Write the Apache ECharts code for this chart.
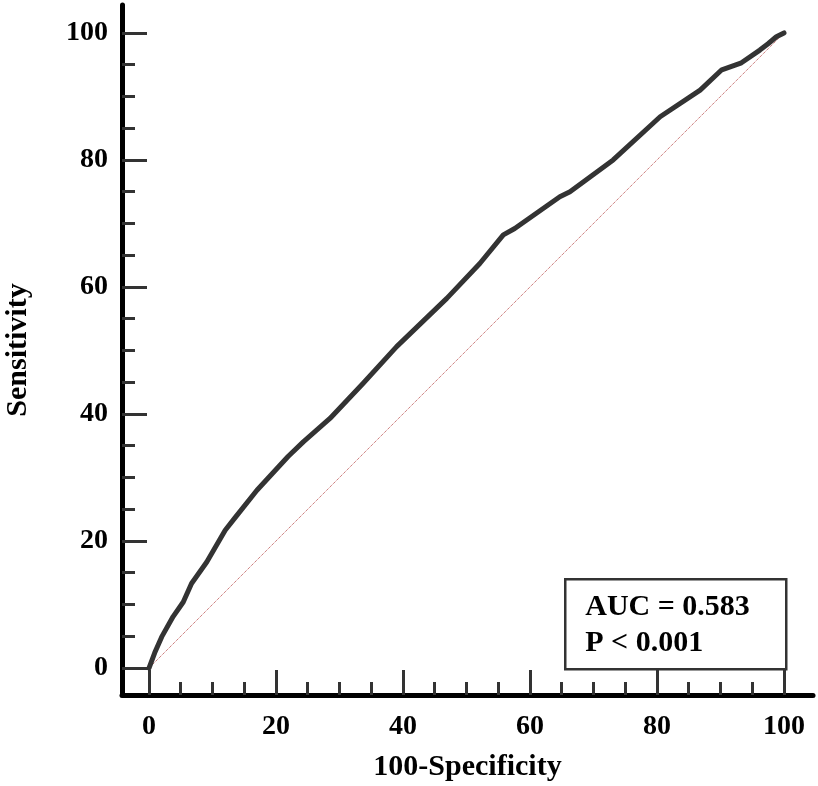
<!DOCTYPE html>
<html>
<head>
<meta charset="utf-8">
<title>ROC curve</title>
<script src="https://cdn.jsdelivr.net/npm/echarts@6/dist/echarts.min.js"></script>
<style>
    html, body { margin: 0; padding: 0; background: #fff; }
    #chart { width: 818px; height: 786px; }
</style>
</head>
<body>
<div id="chart"></div>
<script>
// ROC points (100-Specificity, Sensitivity)
var fpr = [0, 0.2, 0.9, 2.0, 3.8, 5.4, 6.7, 9.1, 12.0, 13.5, 17.0, 21.9, 24.3, 28.5, 33.7, 39.0,
    46.9, 52.1, 55.8, 57.6, 64.7, 66.3, 73.1, 80.5, 86.8, 90.2, 93.3, 96.2, 97.5, 98.8, 100];
var tpr = [0, 0.2, 2.4, 4.9, 8.1, 10.4, 13.3, 16.7, 21.7, 23.6, 28.0, 33.3, 35.6, 39.3, 44.8, 50.6,
    58.2, 63.7, 68.2, 69.2, 74.2, 75.0, 80.0, 86.8, 91.0, 94.2, 95.3, 97.3, 98.3, 99.4, 100];
var diagX = [0, 100];
var diagY = [0, 100];
var majorTicks = [0, 20, 40, 60, 80, 100];
var minorTicks = [5, 10, 15, 25, 30, 35, 45, 50, 55, 65, 70, 75, 85, 90, 95];
var aucText = ['AUC = 0.583', 'P < 0.001'];

var FONT = "'Liberation Serif', 'Times New Roman', serif";

function zip(a, b) {
    return a.map(function (v, i) { return [v, b[i]]; });
}

// major axis: line, long ticks, labels
function majorAxis(name, extra) {
    var ax = {
        type: 'value',
        min: -4.25,
        max: 104.5,
        name: name,
        nameLocation: 'middle',
        nameTextStyle: { fontFamily: FONT, fontWeight: 'bold', fontSize: 30, color: '#000' },
        axisLine: { show: true, onZero: false, lineStyle: { color: '#000', width: 5 } },
        axisTick: { show: true, inside: true, length: 25, customValues: majorTicks,
            lineStyle: { color: '#333', width: 3 } },
        splitLine: { show: false }
    };
    for (var k in extra) ax[k] = extra[k];
    return ax;
}

// minor axis: short ticks only
function minorAxis(extra) {
    var ax = {
        type: 'value',
        min: -4.25,
        max: 104.5,
        axisLine: { show: false, onZero: false },
        axisTick: { show: true, inside: true, length: 13, customValues: minorTicks,
            lineStyle: { color: '#333', width: 3 } },
        axisLabel: { show: false },
        splitLine: { show: false }
    };
    for (var k in extra) ax[k] = extra[k];
    return ax;
}

var chart = echarts.init(document.getElementById('chart'));
var option = {
    animation: false,
    backgroundColor: '#fff',
    grid: { left: 122, right: 5, top: 5, bottom: 91, containLabel: false, outerBoundsMode: 'none' },
    xAxis: [
        majorAxis('100-Specificity', { position: 'bottom', nameGap: 57, max: 104.57,
            axisLabel: { show: true, customValues: majorTicks, margin: 18, fontFamily: FONT,
                fontWeight: 'bold', fontSize: 28, color: '#000' } }),
        minorAxis({ position: 'bottom', max: 104.57 })
    ],
    yAxis: [
        majorAxis('Sensitivity', { position: 'left', nameGap: 89, max: 104.4,
            axisLabel: { show: true, customValues: majorTicks, margin: 14, fontFamily: FONT,
                fontWeight: 'bold', fontSize: 28, color: '#000' } }),
        minorAxis({ position: 'left', max: 104.4 })
    ],
    series: [
        {
            type: 'line',
            xAxisIndex: 0,
            yAxisIndex: 0,
            data: zip(diagX, diagY),
            symbol: 'none',
            lineStyle: { color: '#b84a4a', width: 1, type: 'dotted' },
            z: 1
        },
        {
            type: 'line',
            xAxisIndex: 0,
            yAxisIndex: 0,
            data: zip(fpr, tpr),
            symbol: 'none',
            lineStyle: { color: '#333', width: 5, cap: 'round', join: 'round' },
            z: 2
        }
    ],
    graphic: [
        {
            type: 'group',
            left: 564,
            top: 578,
            children: [
                {
                    type: 'rect',
                    shape: { x: 0, y: 0, width: 221, height: 90 },
                    style: { fill: '#fff', stroke: '#333', lineWidth: 2.5 }
                },
                {
                    type: 'text',
                    x: 20,
                    y: 28,
                    style: { text: aucText[0], font: 'bold 30px ' + FONT, fill: '#000',
                        verticalAlign: 'middle' }
                },
                {
                    type: 'text',
                    x: 20,
                    y: 64,
                    style: { text: aucText[1], font: 'bold 30px ' + FONT, fill: '#000',
                        verticalAlign: 'middle' }
                }
            ]
        }
    ]
};
chart.setOption(option);
</script>
</body>
</html>
